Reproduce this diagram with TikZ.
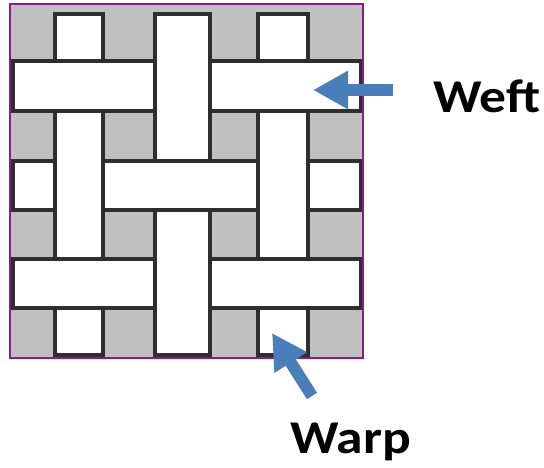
\documentclass[tikz,border=0pt]{standalone}
\usepackage{fontspec}
\newfontfamily\labelfont{Carlito}
\usetikzlibrary{arrows.meta}
\definecolor{clothgray}{HTML}{C0C0C0}
\definecolor{yarnedge}{HTML}{2E2E2E}
\definecolor{framepurple}{HTML}{8B1A8B}
\definecolor{pointerblue}{HTML}{4A7EBB}
\tikzset{
  yarn/.style={fill=white, draw=yarnedge, line width=3.2pt},
  pointer/.style={draw=pointerblue, line width=12pt,
    -{Triangle[length=35pt, width=36pt, fill=pointerblue]}},
  tag/.style={inner sep=0pt, xscale=1.14,
    font=\labelfont\bfseries\fontsize{47}{56}\selectfont}
}
\begin{document}
\begin{tikzpicture}[x=1pt, y=-1pt]
  \useasboundingbox (0,0) rectangle (544,468);
  % cloth background
  \fill[clothgray] (10,4) rectangle (363,358);
  % warp yarns (vertical), visible segments
  \foreach \xa/\xb in {55/103, 258/308} {
    \draw[yarn] (\xa,14) rectangle (\xb,61);
    \draw[yarn] (\xa,111) rectangle (\xb,259);
    \draw[yarn] (\xa,308) rectangle (\xb,355);
  }
  % weft yarns (horizontal), visible segments
  \foreach \ya/\yb in {61/111, 259/308} {
    \draw[yarn] (13,\ya) rectangle (155,\yb);
    \draw[yarn] (210,\ya) rectangle (361,\yb);
  }
  \draw[yarn] (13,161) rectangle (55,210);
  \draw[yarn] (103,161) rectangle (258,210);
  \draw[yarn] (308,161) rectangle (361,210);
  % centre warp passes over weft rows 1 and 5
  \draw[yarn] (155,14) rectangle (210,161);
  \draw[yarn] (155,210) rectangle (210,355);
  % frame
  \draw[framepurple, line width=1.3pt] (10,4) rectangle (363,358);
  % labels and pointers
  \node[tag, anchor=base west] (weft) at (433,113) {Weft};
  \node[tag, anchor=base west] (warp) at (290,453) {Warp};
  \coordinate (wefttail) at (393,90);
  \coordinate (wefttip) at (313,90);
  \coordinate (warptail) at (312,396);
  \coordinate (warptip) at (272,333);
  \draw[pointer] (wefttail) -- (wefttip);
  \draw[pointer] (warptail) -- (warptip);
\end{tikzpicture}
\end{document}
